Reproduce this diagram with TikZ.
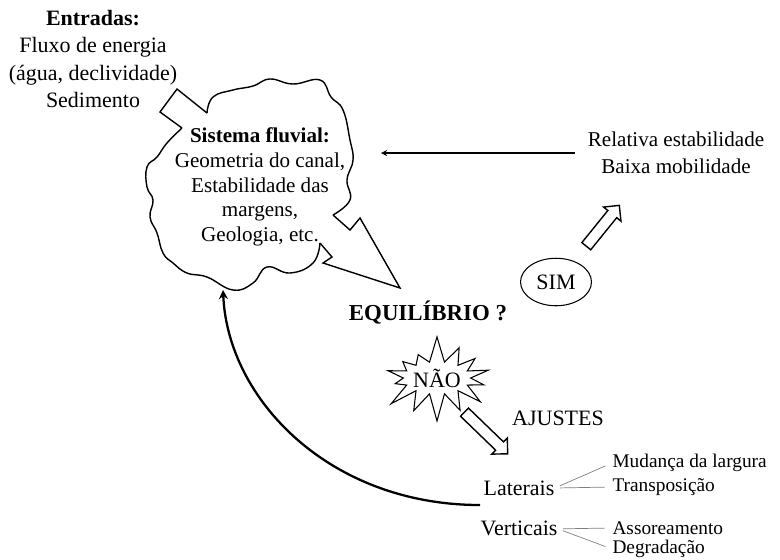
\documentclass[tikz,border=0pt]{standalone}
\usepackage{fontspec}
\setmainfont{Liberation Serif}
\usetikzlibrary{shapes.geometric,shapes.symbols,shapes.arrows,positioning}

\begin{document}
\begin{tikzpicture}[
	x=0.02cm, y=-0.02cm,
	>=stealth,
	txt/.style={font=\fontsize{12.5}{15.5}\selectfont, inner sep=0pt, align=center},
	cloudtxt/.style={font=\fontsize{12}{14}\selectfont, inner sep=0pt, align=center},
	item/.style={font=\fontsize{11}{13}\selectfont, inner sep=0pt, anchor=west},
	hollow/.style={single arrow, draw, thick, inner xsep=0pt, inner ysep=0.1cm,
		single arrow head extend=0.11cm},
	branch/.style={gray, thin, shorten <=3pt, shorten >=4pt},
	semithick
	]
	\useasboundingbox (0,0) rectangle (780,559);

	\node[txt] (entr) at (93,59) {\textbf{Entradas:}\\Fluxo de energia\\(água, declividade)\\Sedimento};

	\draw[thick] (182,128) -- (160,112) -- (177,89) -- (207,113);
	\draw[thick] plot[smooth, tension=0.75] coordinates {(207,113) (213,97) (233,90) (253,86) (270,79) (293,84) (320,80) (331,97) (343,110) (350,140) (353,160) (347,180) (350,200) (333,215)};
	\draw[thick] (333,215) -- (350,230) -- (360,218) -- (400,288) -- (323,263) -- (332,257) -- (320,243);
	\draw[thick] plot[smooth, tension=0.75] coordinates {(320,243) (313,263) (290,273) (267,267) (253,283) (233,290) (207,277) (187,273) (173,263) (163,253) (157,233) (150,217) (153,200) (147,187) (147,167) (157,157) (167,143) (182,128)};
	\node[cloudtxt] (sis) at (260,187) {\textbf{Sistema fluvial:}\\Geometria do canal,\\Estabilidade das\\margens,\\Geologia, etc.};
	\coordinate (cloudR) at (381,153);
	\coordinate (cloudB) at (223,290);

	\node[txt, font=\fontsize{12}{15.5}\selectfont] (rel) at (676,153) {Relativa estabilidade\\Baixa mobilidade};
	\node[txt, font=\bfseries\fontsize{13}{15}\selectfont] (equ) at (428,313) {EQUILÍBRIO ?};
	\node[txt, draw, ellipse, minimum width=1.42cm, minimum height=0.95cm] (sim) at (556,282) {SIM};
	\node[hollow, minimum height=1.05cm, rotate=51] (simarr) at (601,228) {};
	\node[txt, draw, starburst, starburst points=14, starburst point height=0.55cm,
		random starburst=7, minimum width=1.85cm, minimum height=1.75cm] (nao) at (437,378) {NÃO};
	\node[hollow, minimum height=1.2cm, rotate=-44] (ajarr) at (484,431) {};
	\node[txt] (aju) at (558,418) {AJUSTES};

	\node[txt] (lat) at (519,488) {Laterais};
	\node[txt] (ver) [below=0.5cm of lat] {Verticais};
	\node[item] (mud) at (612,463) {Mudança da largura};
	\node[item] (tra) at (612,487) {Transposição};
	\node[item] (ass) at (612,528) {Assoreamento};
	\node[item] (deg) at (612,549) {Degradação};
	\coordinate (curveS) at (480,505);

	\draw[->, semithick, shorten <=0.25cm] (rel.west) -- (cloudR);
	\draw[->, line width=1.3pt] (curveS) .. controls (330,505) and (228,400) .. (cloudB);
	\draw[branch] (lat.east) -- (mud.west);
	\draw[branch] (lat.east) -- (tra.west);
	\draw[branch] (ver.east) -- (ass.west);
	\draw[branch] (ver.east) -- (deg.west);
\end{tikzpicture}
\end{document}
